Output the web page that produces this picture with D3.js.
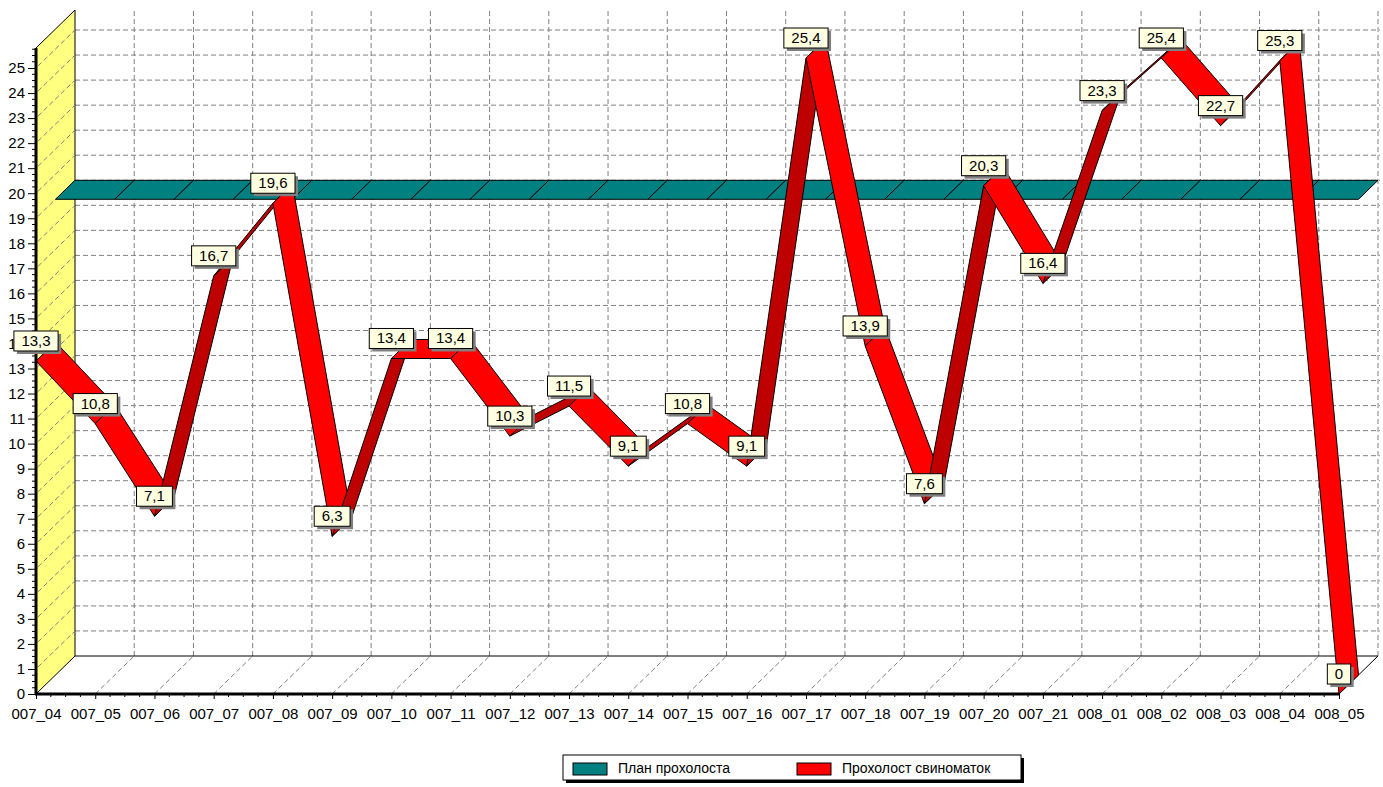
<!DOCTYPE html>
<html>
<head>
<meta charset="utf-8">
<script src="https://cdn.jsdelivr.net/npm/d3@7"></script>
<style>
  body { margin: 0; background: #fff; }
  text { font-family: Arial, "Liberation Sans", sans-serif; }
</style>
</head>
<body>
<svg id="chart" width="1383" height="787"></svg>
<script>
'use strict';

// data
var categories = ["007_04", "007_05", "007_06", "007_07", "007_08", "007_09", "007_10", "007_11",
  "007_12", "007_13", "007_14", "007_15", "007_16", "007_17", "007_18", "007_19", "007_20",
  "007_21", "008_01", "008_02", "008_03", "008_04", "008_05"];
var planValues = [19, 19, 19, 19, 19, 19, 19, 19, 19, 19, 19, 19, 19, 19, 19, 19, 19, 19, 19, 19, 19, 19, 19];
var sowValues = [13.3, 10.8, 7.1, 16.7, 19.6, 6.3, 13.4, 13.4, 10.3, 11.5, 9.1, 10.8, 9.1, 25.4,
  13.9, 7.6, 20.3, 16.4, 23.3, 25.4, 22.7, 25.3, 0];
var seriesNames = ["План прохолоста", "Прохолост свиноматок"];
var yTicks = d3.range(0, 26);

var depthX = 39, depthY = -38;
var svg = d3.select("#chart");

var x = d3.scalePoint().domain(categories).range([36, 1339]);
var y = d3.scaleLinear().domain([0, 25.8]).range([694, 48]);

// front point -> projected point at depth z (0 = front, 1 = back wall)
function proj(cat, v, z) {
    return [x(cat) + depthX * z, y(v) + depthY * z];
}
function pts(list) {
    return list.map(p => p[0].toFixed(1) + "," + p[1].toFixed(1)).join(" ");
}

var first = categories[0], last = categories[categories.length - 1];
var backRight = x(last) + depthX + 2;
var dash = "5,3";

// back wall grid
var grid = svg.append("g").attr("stroke", "#808080").attr("stroke-dasharray", dash).attr("fill", "none");
grid.selectAll("line.h").data(yTicks.filter(d => d > 0)).enter().append("line")
    .attr("x1", proj(first, 0, 1)[0]).attr("x2", backRight)
    .attr("y1", d => proj(first, d, 1)[1]).attr("y2", d => proj(first, d, 1)[1]);
grid.selectAll("line.v").data(categories.slice(1)).enter().append("line")
    .attr("x1", d => proj(d, 0, 1)[0]).attr("x2", d => proj(d, 0, 1)[0])
    .attr("y1", y(0) + depthY).attr("y2", y(25.8) + depthY);

// floor diagonals
grid.selectAll("line.f").data(categories.slice(1, -1)).enter().append("line")
    .attr("x1", d => proj(d, 0, 0)[0]).attr("y1", d => proj(d, 0, 0)[1])
    .attr("x2", d => proj(d, 0, 1)[0]).attr("y2", d => proj(d, 0, 1)[1]);

svg.append("line")
    .attr("x1", proj(first, 0, 1)[0]).attr("y1", proj(first, 0, 1)[1])
    .attr("x2", backRight - 2).attr("y2", proj(last, 0, 1)[1])
    .attr("stroke", "#000");
svg.append("line")
    .attr("x1", proj(last, 0, 1)[0]).attr("y1", proj(last, 0, 1)[1])
    .attr("x2", proj(last, 0, 0)[0]).attr("y2", proj(last, 0, 0)[1])
    .attr("stroke", "#000");

// left (yellow) wall
svg.append("polygon")
    .attr("points", pts([proj(first, 0, 0), proj(first, 25.8, 0), proj(first, 25.8, 1), proj(first, 0, 1)]))
    .attr("fill", "#FFFF80").attr("stroke", "#000");
svg.append("g").attr("stroke", "#808080").attr("stroke-dasharray", dash)
    .selectAll("line").data(yTicks.filter(d => d > 0)).enter().append("line")
    .attr("x1", proj(first, 0, 0)[0] + 2).attr("x2", proj(first, 0, 1)[0])
    .attr("y1", d => proj(first, d, 0)[1] - 2).attr("y2", d => proj(first, d, 1)[1]);

// ribbons
function ribbon(values, z0, z1, upColor, downColor) {
    var g = svg.append("g");
    g.selectAll("polygon").data(d3.pairs(values.map((v, i) => [categories[i], v]))).enter()
        .append("polygon")
        .attr("points", d => pts([proj(d[0][0], d[0][1], z0), proj(d[1][0], d[1][1], z0),
                                  proj(d[1][0], d[1][1], z1), proj(d[0][0], d[0][1], z1)]))
        .attr("fill", d => d[1][1] > d[0][1] ? upColor : downColor)
        .attr("stroke", "#000").attr("stroke-width", 1).attr("stroke-linejoin", "round");
}
ribbon(planValues, 0.5, 1, "#008080", "#008080");
ribbon(sowValues, 0, 0.5, "#BF0000", "#FF0000");

// axes
var yAxis = d3.axisLeft(y).tickValues(yTicks).tickSize(8).tickPadding(3).tickFormat(d3.format("d"));
var gy = svg.append("g").attr("transform", "translate(36,0)").call(yAxis);
gy.select(".domain").remove();
gy.attr("font-size", 15).attr("font-family", null);
gy.selectAll("text").attr("fill", "#000");

var minorY = d3.range(0, 25.8, 0.25).filter(d => d % 1 !== 0);
svg.append("g").attr("stroke", "#000").selectAll("line").data(minorY).enter().append("line")
    .attr("x1", 32).attr("x2", 36).attr("y1", d => y(d)).attr("y2", d => y(d));

var xAxis = d3.axisBottom(x).tickSize(5).tickPadding(9);
var gx = svg.append("g").attr("transform", "translate(0," + y(0) + ")").call(xAxis);
gx.select(".domain").remove();
gx.attr("font-size", 15).attr("font-family", null);
gx.selectAll("text").attr("fill", "#000");

var step = x.step();
var minorX = [];
categories.slice(0, -1).forEach(c => { for (var k = 1; k < 4; k++) minorX.push(x(c) + step * k / 4); });
svg.append("g").attr("stroke", "#000").selectAll("line").data(minorX).enter().append("line")
    .attr("x1", d => d).attr("x2", d => d).attr("y1", y(0)).attr("y2", y(0) + 3);

svg.append("line").attr("x1", 36).attr("x2", 36).attr("y1", y(25.8)).attr("y2", y(0) + 1)
    .attr("stroke", "#000").attr("stroke-width", 3);
svg.append("line").attr("x1", 35).attr("x2", x(last)).attr("y1", y(0)).attr("y2", y(0))
    .attr("stroke", "#000").attr("stroke-width", 3);

// marks
var fmt = v => String(v).replace(".", ",");
var marks = svg.append("g").selectAll("g").data(sowValues).enter().append("g")
    .attr("transform", (d, i) => "translate(" + x(categories[i]) + "," + (y(d) - 10) + ")");
marks.each(function (d) {
    var g = d3.select(this);
    var t = g.append("text").text(fmt(d)).attr("font-size", 15).attr("text-anchor", "middle").attr("y", -5);
    var w = t.node().getComputedTextLength() + 15;
    g.insert("rect", "text").attr("x", -w / 2 + 3).attr("y", -17).attr("width", w).attr("height", 20)
        .attr("fill", "#808080");
    g.insert("rect", "text").attr("x", -w / 2).attr("y", -20).attr("width", w).attr("height", 20)
        .attr("fill", "#FFFFE1").attr("stroke", "#000");
});

// legend
var legend = svg.append("g").attr("transform", "translate(563,755)");
legend.append("rect").attr("x", 3).attr("y", 3).attr("width", 458).attr("height", 25).attr("fill", "#000");
legend.append("rect").attr("width", 458).attr("height", 25).attr("fill", "#fff").attr("stroke", "#000");
var legendColors = ["#008080", "#FF0000"];
var legendX = [10, 234];
seriesNames.forEach((name, i) => {
    legend.append("rect").attr("x", legendX[i]).attr("y", 8).attr("width", 34).attr("height", 12)
        .attr("fill", legendColors[i]).attr("stroke", "#000");
    legend.append("text").attr("x", legendX[i] + 45).attr("y", 18).attr("font-size", 14).text(name);
});
</script>
</body>
</html>
